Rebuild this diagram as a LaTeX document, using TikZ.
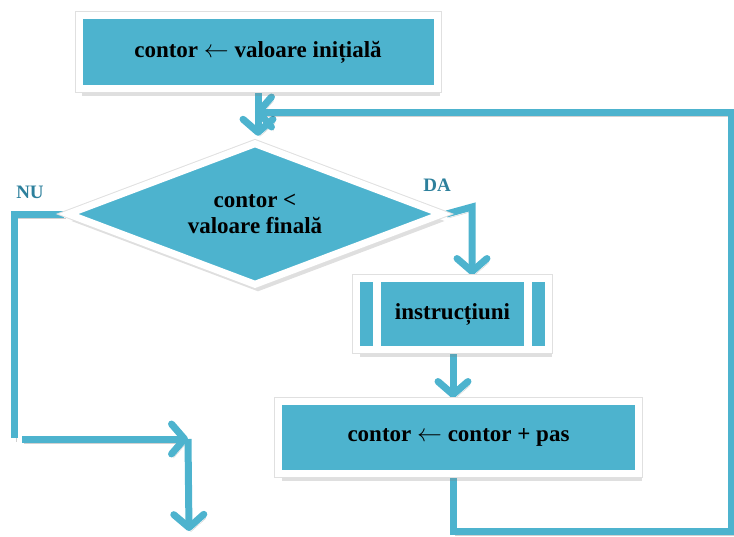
\documentclass[tikz,border=0pt]{standalone}
\usepackage{fontspec}
\setmainfont{Liberation Serif}
\usetikzlibrary{shapes.geometric,arrows.meta,positioning,calc,shadows,backgrounds}
\definecolor{flowcyan}{RGB}{77,179,206}
\definecolor{labelteal}{RGB}{45,128,156}

\begin{document}
\begin{tikzpicture}[
  x=1pt, y=-1pt,
  flow/.style={
    draw=flowcyan,
    line width=7pt,
    preaction={draw=black, opacity=0.18, transform canvas={shift={(2pt,-4pt)}}}
  },
  arrowflow/.style={
    flow,
    -{Straight Barb[length=13pt,width=30pt,round]}
  },
  procbox/.style={
    fill=flowcyan,
    draw=white,
    line width=7pt,
    inner sep=0pt,
    align=center,
    drop shadow={opacity=0.25, shadow xshift=3pt, shadow yshift=-7pt},
    preaction={draw=black!12, line width=9pt},
    font=\fontsize{23}{26}\selectfont\bfseries
  },
  decision/.style={
    procbox,
    diamond,
    aspect=2.6,
    minimum width=376pt,
    minimum height=143.5pt
  },
  branch/.style={
    font=\fontsize{19}{22}\selectfont\bfseries,
    text=labelteal
  }
]
  \useasboundingbox (0,0) rectangle (734,536);

  % Initial value
  \node[procbox, minimum width=358pt, minimum height=73pt] (init) at (258,52) {contor $\leftarrow$ valoare inițială};

  % Loop test
  \node[decision, below=46.75pt of init, xshift=-3pt] (test) {contor <\\valoare finală};

  % Loop body with side bars
  \node[procbox, minimum width=192pt, minimum height=71pt] (body) at (452.5,314) {instrucțiuni};
  \draw[white, line width=8pt] ($(body.north west)+(24,0)$) -- ($(body.south west)+(24,0)$);
  \draw[white, line width=8pt] ($(body.north east)+(-24,0)$) -- ($(body.south east)+(-24,0)$);

  % Increment
  \node[procbox, minimum width=360pt, minimum height=72pt] (incr) at (458.5,437.5) {contor $\leftarrow$ contor + pas};

  % Branch labels
  \node[branch] (nu) at (30,192) {NU};
  \node[branch] (da) at (437,185) {DA};

  % Free ends of the connectors
  \coordinate (nuCorner) at (14,438);
  \coordinate (nuStart) at (22,439);
  \coordinate (nuJoin) at (188,439);
  \coordinate (nuEnd) at (189,531);
  \coordinate (daTurn) at (472,207);
  \coordinate (loopLow) at (453,531);
  \coordinate (loopRight) at (731,531);
  \coordinate (loopTop) at (731,112);
  \coordinate (merge) at (255,112);

  \begin{pgfonlayer}{background}
    \draw[arrowflow, shorten >=3pt] (init.south) -- (init.south |- test.north);
    \draw[flow] (test.west) -| (nuCorner);
    \draw[arrowflow] (nuStart) -- (nuJoin);
    \draw[arrowflow] (nuJoin) -- (nuEnd);
    \draw[arrowflow] (test.east) -- (daTurn) -- (daTurn |- body.north);
    \draw[arrowflow] (body.south -| loopLow) -- (loopLow |- incr.north);
    \draw[arrowflow] (incr.south -| loopLow) -- (loopLow) -- (loopRight) -- (loopTop) -- (merge);
  \end{pgfonlayer}

\end{tikzpicture}
\end{document}
